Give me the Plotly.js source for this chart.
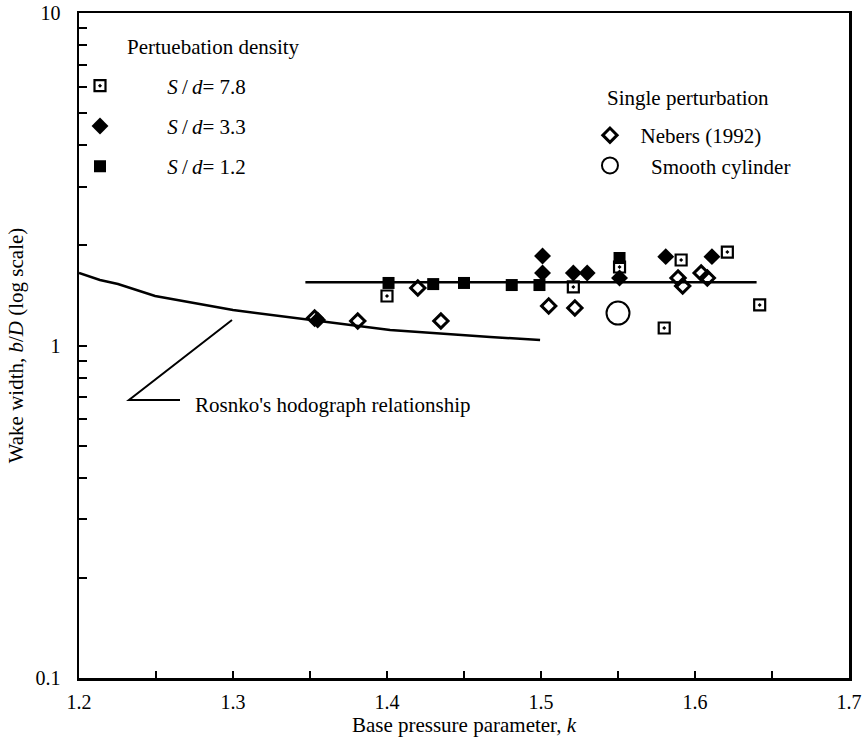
<!DOCTYPE html>
<html>
<head>
<meta charset="utf-8">
<script src="https://cdn.plot.ly/plotly-3.0.1.min.js"></script>
<style>html,body{margin:0;padding:0;background:#fff;}#chart{width:868px;height:743px;}</style>
</head>
<body>
<div id="chart"></div>
<script>
// ---- data ----
var rosnkoK   = [1.200, 1.2136, 1.2253, 1.2494, 1.300, 1.363, 1.402, 1.467, 1.4994];
var rosnkoBD  = [1.652, 1.574, 1.531, 1.409, 1.279, 1.177, 1.113, 1.061, 1.039];

var fitK  = [1.347, 1.640];
var fitBD = [1.55, 1.55];

var sd78K  = [1.400, 1.521, 1.551, 1.580, 1.591, 1.621, 1.642];
var sd78BD = [1.409, 1.500, 1.722, 1.129, 1.808, 1.910, 1.324];

var sd33K  = [1.355, 1.501, 1.501, 1.521, 1.530, 1.551, 1.581, 1.611];
var sd33BD = [1.193, 1.859, 1.652, 1.652, 1.652, 1.596, 1.850, 1.850];

var sd12K  = [1.401, 1.430, 1.450, 1.481, 1.499, 1.551];
var sd12BD = [1.542, 1.530, 1.542, 1.520, 1.520, 1.833];

var nebersK  = [1.353, 1.381, 1.420, 1.435, 1.505, 1.522, 1.589, 1.592, 1.604, 1.608];
var nebersBD = [1.210, 1.185, 1.489, 1.185, 1.315, 1.297, 1.596, 1.510, 1.652, 1.596];

var smoothK  = [1.550];
var smoothBD = [1.252];

var xTickVals = [1.2, 1.25, 1.3, 1.35, 1.4, 1.45, 1.5, 1.55, 1.6, 1.65, 1.7];
var xTickText = ['1.2', '', '1.3', '', '1.4', '', '1.5', '', '1.6', '', '1.7'];
var yTickVals = [0.1,0.2,0.3,0.4,0.5,0.6,0.7,0.8,0.9,1,2,3,4,5,6,7,8,9,10];
var yTickText = ['0.1','','','','','','','','','1','','','','','','','','','10'];

var FONT = 'Liberation Serif, Times New Roman, serif';
var NB = '\u00a0';
function pad(n){ return new Array(n+1).join(NB); }

var traces = [
  {x: rosnkoK, y: rosnkoBD, mode: 'lines', line: {color: '#000', width: 2.5}, showlegend: false, hoverinfo: 'skip'},
  {x: fitK, y: fitBD, mode: 'lines', line: {color: '#000', width: 2.5}, showlegend: false, hoverinfo: 'skip'},
  {x: smoothK, y: smoothBD, mode: 'markers', name: pad(4) + 'Smooth cylinder', legend: 'legend2', legendgroup: 'g5', legendrank: 2,
   marker: {symbol: 'circle-open', size: 23, color: '#000', line: {width: 2, color: '#000'}}},
  {x: sd78K, y: sd78BD, mode: 'markers', name: pad(9) + '<i>S</i>\u2009/\u2009<i>d</i>= 7.8', legend: 'legend', legendgroup: 'g1', legendrank: 1,
   marker: {symbol: 'square-open-dot', size: 11, color: '#000', line: {width: 2.2, color: '#000'}}},
  {x: sd33K, y: sd33BD, mode: 'markers', name: pad(9) + '<i>S</i>\u2009/\u2009<i>d</i>= 3.3', legend: 'legend', legendgroup: 'g2', legendrank: 2,
   marker: {symbol: 'diamond', size: 13, color: '#000'}},
  {x: sd12K, y: sd12BD, mode: 'markers', name: pad(9) + '<i>S</i>\u2009/\u2009<i>d</i>= 1.2', legend: 'legend', legendgroup: 'g3', legendrank: 3,
   marker: {symbol: 'square', size: 12, color: '#000'}},
  {x: nebersK, y: nebersBD, mode: 'markers', name: pad(2) + 'Nebers (1992)', legend: 'legend2', legendgroup: 'g4', legendrank: 1,
   marker: {symbol: 'diamond-open', size: 11, color: '#000', line: {width: 3, color: '#000'}}}
];

var layout = {
  width: 868, height: 743,
  margin: {l: 79, r: 19, t: 13, b: 65},
  paper_bgcolor: '#fff', plot_bgcolor: '#fff',
  font: {family: FONT, size: 21, color: '#000'},
  showlegend: true,
  xaxis: {
    range: [1.2, 1.7], tickmode: 'array', tickvals: xTickVals, ticktext: xTickText,
    ticks: 'inside', ticklen: 7, tickwidth: 2, tickcolor: '#000',
    showline: true, linecolor: '#000', linewidth: 2.5, mirror: true,
    showgrid: false, zeroline: false, ticklabelstandoff: 4,
    tickfont: {family: FONT, size: 20},
    title: {text: 'Base pressure parameter, <i>k</i>', font: {family: FONT, size: 21}, standoff: 6}
  },
  yaxis: {
    type: 'log', range: [-1, 1], tickmode: 'array', tickvals: yTickVals, ticktext: yTickText,
    ticks: 'inside', ticklen: 8, tickwidth: 2, tickcolor: '#000',
    showline: true, linecolor: '#000', linewidth: 2.5, mirror: true,
    showgrid: false, zeroline: false, ticklabelstandoff: 12,
    tickfont: {family: FONT, size: 20},
    title: {text: 'Wake width, <i>b</i>/<i>D</i> (log scale)', font: {family: FONT, size: 21}, standoff: 6}
  },
  legend: {
    x: 0.0013, xanchor: 'left', y: 0.921, yanchor: 'top',
    bgcolor: 'rgba(0,0,0,0)', borderwidth: 0, tracegroupgap: 10,
    traceorder: 'grouped', font: {family: FONT, size: 21}
  },
  legend2: {
    x: 0.6636, xanchor: 'left', y: 0.8466, yanchor: 'top',
    bgcolor: 'rgba(0,0,0,0)', borderwidth: 0, tracegroupgap: 0,
    traceorder: 'grouped', font: {family: FONT, size: 21}
  },
  shapes: [
    {type: 'path', xref: 'paper', yref: 'paper',
     path: 'M 0.1987 0.5383 L 0.0649 0.418 L 0.1312 0.418',
     line: {color: '#000', width: 2}}
  ],
  annotations: [
    {xref: 'paper', yref: 'paper', x: 0.0597, y: 0.9495, xanchor: 'left', yanchor: 'middle',
     text: 'Pertuebation density', showarrow: false, font: {family: FONT, size: 21}},
    {xref: 'paper', yref: 'paper', x: 0.683, y: 0.8722, xanchor: 'left', yanchor: 'middle',
     text: 'Single perturbation', showarrow: false, font: {family: FONT, size: 21}},
    {xref: 'paper', yref: 'paper', x: 0.1475, y: 0.410, xanchor: 'left', yanchor: 'middle',
     text: "Rosnko's hodograph relationship", showarrow: false, font: {family: FONT, size: 21}}
  ]
};

Plotly.newPlot('chart', traces, layout, {displayModeBar: false, staticPlot: true});
</script>
</body>
</html>
